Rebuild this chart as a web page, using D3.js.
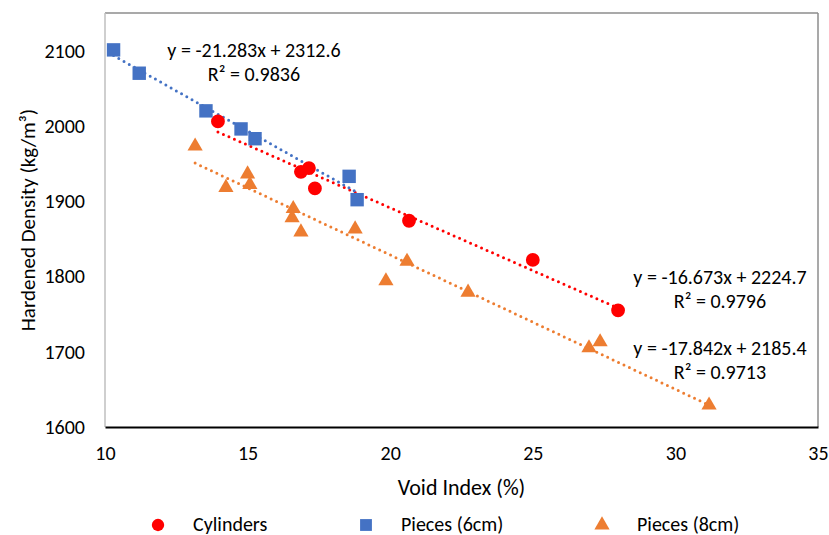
<!DOCTYPE html>
<html>
<head>
<meta charset="utf-8">
<script src="https://cdn.jsdelivr.net/npm/d3@7"></script>
<style>
  body { margin: 0; background: #fff; }
  text { font-family: Carlito, Lato, "Open Sans", sans-serif; fill: #000; }
</style>
</head>
<body>
<div id="chart"></div>
<script>
// data
var cylX = [13.96, 16.87, 17.15, 17.36, 20.66, 25.0, 27.99];
var cylY = [2006, 1939, 1944, 1917, 1874, 1822, 1755];
var p6X = [10.3, 11.2, 13.54, 14.77, 15.26, 18.56, 18.84];
var p6Y = [2101, 2070, 2020, 1996, 1983, 1933, 1902];
var p8X = [13.16, 14.24, 15.0, 15.08, 16.6, 16.56, 16.87, 18.77, 19.85, 20.59, 22.73, 26.97, 27.36, 31.18];
var p8Y = [1973, 1918, 1936, 1922, 1890, 1878, 1859, 1863, 1794, 1820, 1779, 1705, 1713, 1629];
var xTicks = [10, 15, 20, 25, 30, 35];
var yTicks = [1600, 1700, 1800, 1900, 2000, 2100];

var series = [
    {name: "Cylinders", xs: cylX, ys: cylY, color: "#ff0000", shape: "circle", slope: -16.673, icept: 2224.7, r2: "0.9796"},
    {name: "Pieces (6cm)", xs: p6X, ys: p6Y, color: "#4472c4", shape: "square", slope: -21.283, icept: 2312.6, r2: "0.9836"},
    {name: "Pieces (8cm)", xs: p8X, ys: p8Y, color: "#ed7d31", shape: "triangle", slope: -17.842, icept: 2185.4, r2: "0.9713"}
];

var W = 829, H = 535;
var plotL = 105, plotR = 818, plotT = 13, plotB = 427;

var svg = d3.select("#chart").append("svg").attr("width", W).attr("height", H);

var x = d3.scaleLinear().domain([10, 35]).range([plotL, plotR]);
var y = d3.scaleLinear().domain([1600, 2150]).range([plotB, plotT]);

// frame
svg.append("line").attr("x1", plotL).attr("x2", plotR).attr("y1", plotT).attr("y2", plotT)
    .attr("stroke", "#8c8c8c").attr("stroke-width", 1.5);
svg.append("line").attr("x1", plotR).attr("x2", plotR).attr("y1", plotT).attr("y2", plotB)
    .attr("stroke", "#8c8c8c").attr("stroke-width", 1.5);
svg.append("line").attr("x1", plotL).attr("x2", plotL).attr("y1", plotT).attr("y2", plotB)
    .attr("stroke", "#bfbfbf").attr("stroke-width", 1.5);

// axes
var xAxis = svg.append("g").attr("transform", "translate(0," + plotB + ")")
    .call(d3.axisBottom(x).tickValues(xTicks).tickFormat(d3.format("d")).tickSize(0).tickPadding(19));
xAxis.select(".domain").attr("stroke", "#000").attr("stroke-width", 2);
xAxis.selectAll("text").style("font-size", "20px");

var yAxis = svg.append("g").attr("transform", "translate(" + plotL + ",0)")
    .call(d3.axisLeft(y).tickValues(yTicks).tickFormat(d3.format("d")).tickSize(0).tickPadding(20));
yAxis.select(".domain").remove();
yAxis.selectAll("text").style("font-size", "20px");

svg.append("text").attr("x", (plotL + plotR) / 2).attr("y", 495)
    .attr("text-anchor", "middle").style("font-size", "22px").text("Void Index (%)");
svg.append("text").attr("transform", "translate(35," + (plotB + plotT) / 2 + ") rotate(-90)")
    .attr("text-anchor", "middle").style("font-size", "21px").text("Hardened Density (kg/m³)");

var sym = {
    circle: d3.symbol().type(d3.symbolCircle).size(150),
    square: d3.symbol().type(d3.symbolSquare).size(180),
    triangle: d3.symbol().type(d3.symbolTriangle).size(100)
};

// trendlines
series.forEach(function(s){
    var x0 = d3.min(s.xs), x1 = d3.max(s.xs);
    svg.append("line")
        .attr("x1", x(x0)).attr("y1", y(s.slope * x0 + s.icept))
        .attr("x2", x(x1)).attr("y2", y(s.slope * x1 + s.icept))
        .attr("stroke", s.color).attr("stroke-width", 3)
        .attr("stroke-linecap", "round").attr("stroke-dasharray", "0 6");
});

// points
series.forEach(function(s){
    svg.append("g").selectAll("path").data(d3.range(s.xs.length)).enter().append("path")
        .attr("d", sym[s.shape])
        .attr("transform", function(i){ return "translate(" + x(s.xs[i]) + "," + y(s.ys[i]) + ")"; })
        .attr("fill", s.color);
});

// equation labels
var eqPos = [
    {cx: 720, cy: 277},   // cylinders
    {cx: 254, cy: 50},    // pieces 6cm
    {cx: 720, cy: 348}    // pieces 8cm
];
series.forEach(function(s, i){
    var t = svg.append("text").attr("text-anchor", "middle").style("font-size", "20px");
    var sign = s.icept >= 0 ? " + " : " - ";
    t.append("tspan").attr("x", eqPos[i].cx).attr("y", eqPos[i].cy + 7)
        .text("y = " + s.slope + "x" + sign + s.icept);
    t.append("tspan").attr("x", eqPos[i].cx).attr("y", eqPos[i].cy + 31)
        .text("R² = " + s.r2);
});

// legend
var legX = [158, 366, 602];
series.forEach(function(s, i){
    svg.append("path").attr("d", d3.symbol().type(
            s.shape === "circle" ? d3.symbolCircle : s.shape === "square" ? d3.symbolSquare : d3.symbolTriangle
        ).size(s.shape === "circle" ? 120 : s.shape === "square" ? 140 : 100))
        .attr("transform", "translate(" + legX[i] + ",525)")
        .attr("fill", s.color);
    svg.append("text").attr("x", legX[i] + 35).attr("y", 531)
        .style("font-size", "20px").text(s.name);
});
</script>
</body>
</html>
